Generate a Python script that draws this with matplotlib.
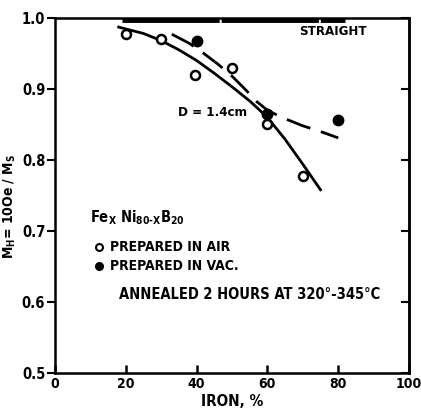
import matplotlib.pyplot as plt

# ---- data ----
air_fe = [20, 30, 39.5, 50, 60, 70]
air_ratio = [0.977, 0.970, 0.919, 0.930, 0.851, 0.778]

vac_fe = [40, 60, 80]
vac_ratio = [0.967, 0.864, 0.856]

# solid fit curve (prepared in air)
solid_fe = [18, 25, 30, 35, 40, 45, 50, 55, 60, 65, 70, 75]
solid_ratio = [0.987, 0.978, 0.968, 0.955, 0.940, 0.922, 0.903, 0.883, 0.860, 0.829, 0.794, 0.758]

# dashed curve (D = 1.4 cm)
dash_fe = [33, 38, 42, 46, 50, 54, 57, 60, 64, 70, 75, 80]
dash_ratio = [0.977, 0.964, 0.950, 0.935, 0.918, 0.898, 0.882, 0.870, 0.860, 0.848, 0.840, 0.831]

# "straight" reference line
straight_fe = [19, 82]
straight_ratio = [0.997, 0.997]

x_ticks = [0, 20, 40, 60, 80, 100]
y_ticks = [0.5, 0.6, 0.7, 0.8, 0.9, 1.0]
y_labels = ["0.5", "0.6", "0.7", "0.8", "0.9", "1.0"]

plt.rcParams['font.family'] = ['DejaVu Sans']
plt.rcParams['font.stretch'] = 'condensed'
plt.rcParams['font.weight'] = 'bold'
plt.rcParams['mathtext.default'] = 'regular'

fig = plt.figure(figsize=(4.21, 4.11), dpi=100)
ax = fig.add_axes([0.1306, 0.0925, 0.8409, 0.864])

ax.plot(solid_fe, solid_ratio, color="black", lw=2)
ax.plot(dash_fe, dash_ratio, color="black", lw=2, dashes=(9, 4))
ax.plot(straight_fe, straight_ratio, color="black", lw=3.5, dashes=(20, 0.4))

ax.plot(air_fe, air_ratio, "o", mfc="white", mec="black", mew=1.8, ms=6.5, ls="none")
ax.plot(vac_fe, vac_ratio, "o", color="black", ms=7.5, ls="none")

ax.set_xlim(0, 100)
ax.set_ylim(0.5, 1.0)
ax.set_xticks(x_ticks)
ax.set_yticks(y_ticks)
ax.set_yticklabels(y_labels)

for s in ax.spines.values():
    s.set_linewidth(1.8)

ax.tick_params(axis="x", direction="in", length=6, width=1.8, labelsize=10, pad=3)
ax.tick_params(axis="y", direction="out", length=6, width=1.5, labelsize=10.5, pad=1)

# inward ticks on the right spine, no labels
sec = ax.secondary_yaxis("right")
sec.set_yticks(y_ticks)
sec.tick_params(direction="in", length=6, width=1.5, labelright=False)
sec.spines["right"].set_linewidth(1.8)

ax.set_xlabel("IRON, %", fontsize=11, fontweight="bold", labelpad=2)
ax.set_ylabel("M$_{H}$= 10Oe / M$_{S}$", fontsize=10, fontweight="bold")
ax.yaxis.set_label_coords(-0.105, 0.47)

ax.text(69, 0.976, "STRAIGHT", fontsize=9.5, fontweight="bold")
ax.text(34.7, 0.862, "D = 1.4cm", fontsize=9.5, fontweight="bold")
ax.text(10, 0.712, "Fe$_{X}$ Ni$_{80\\text{-}X}$B$_{20}$", fontsize=10.5, fontweight="bold")
ax.plot([12.5], [0.678], "o", mfc="white", mec="black", mew=1.5, ms=5)
ax.text(15.5, 0.678, "PREPARED IN AIR", fontsize=10, fontweight="bold", va="center")
ax.plot([12.5], [0.651], "o", color="black", ms=5.5)
ax.text(15.5, 0.651, "PREPARED IN VAC.", fontsize=10, fontweight="bold", va="center")
ax.text(18, 0.61, "ANNEALED 2 HOURS AT 320°-345°C", fontsize=10.5, fontweight="bold",
        va="center")

fig.savefig("out.png", dpi=100)
